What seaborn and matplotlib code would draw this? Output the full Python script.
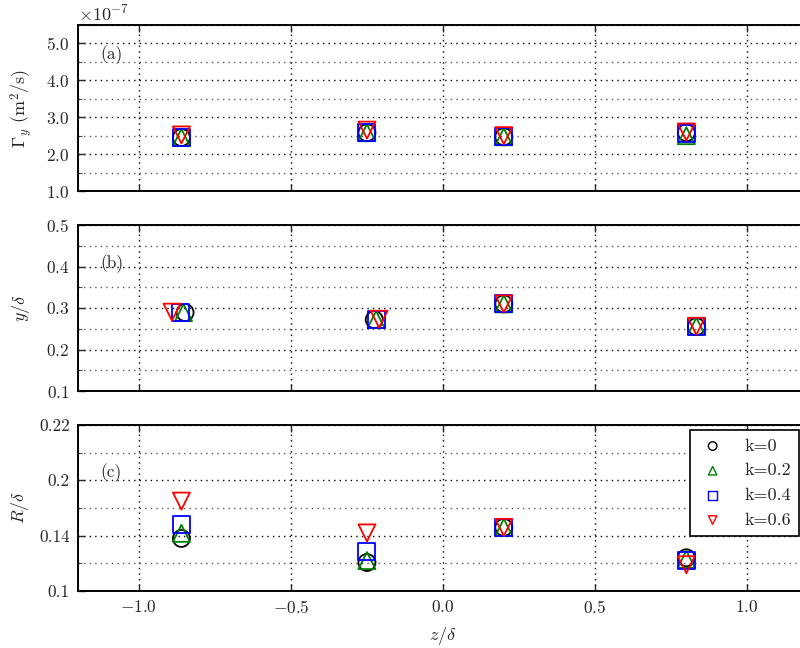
import numpy as np
import pandas as pd
import matplotlib
matplotlib.use("Agg")
import matplotlib.pyplot as plt
import seaborn as sns
from matplotlib.ticker import ScalarFormatter, MultipleLocator, FixedLocator, FixedFormatter

# ---------------- data ----------------
k_labels = ["k=0", "k=0.2", "k=0.4", "k=0.6"]

# panel (a): Gamma_y (m^2/s)
z_a = [-0.86, -0.25, 0.2, 0.8]
gamma_k0 = [2.45e-7, 2.58e-7, 2.47e-7, 2.58e-7]
gamma_k02 = [2.45e-7, 2.58e-7, 2.47e-7, 2.50e-7]
gamma_k04 = [2.45e-7, 2.58e-7, 2.47e-7, 2.56e-7]
gamma_k06 = [2.52e-7, 2.65e-7, 2.50e-7, 2.60e-7]

# panel (b): y/delta (positions differ slightly per k)
zb_k0 = [-0.848, -0.226, 0.2, 0.833]
zb_k02 = [-0.853, -0.220, 0.2, 0.833]
zb_k04 = [-0.863, -0.218, 0.2, 0.833]
zb_k06 = [-0.891, -0.210, 0.2, 0.833]
yd_k0 = [0.289, 0.272, 0.310, 0.255]
yd_k02 = [0.289, 0.272, 0.310, 0.256]
yd_k04 = [0.289, 0.272, 0.310, 0.255]
yd_k06 = [0.290, 0.273, 0.310, 0.256]

# panel (c): R/delta
z_c = [-0.86, -0.25, 0.2, 0.8]
rd_k0 = [0.138, 0.1206, 0.146, 0.124]
rd_k02 = [0.1417, 0.122, 0.146, 0.123]
rd_k04 = [0.1484, 0.1284, 0.146, 0.1217]
rd_k06 = [0.165, 0.142, 0.146, 0.119]

c_yticks = [0.1, 0.14, 0.18, 0.22]
c_yticklabels = ["0.1", "0.14", "0.2", "0.22"]

# ---------------- style ----------------
sns.set_style("ticks")
plt.rcParams.update({
    "font.family": ["cmr10", "DejaVu Serif"],
    "mathtext.fontset": "cm",
    "axes.formatter.use_mathtext": True,
    "axes.unicode_minus": True,
    "font.size": 12,
    "axes.linewidth": 1.4,
})

markers = ["o", "^", "s", "v"]
colors = ["black", "green", "blue", "red"]

fig = plt.figure(figsize=(8.0, 6.48), dpi=100)
left, width = 78 / 800, (808 - 78) / 800
H = 648
def pos(top, bottom):
    return [left, 1 - bottom / H, width, (bottom - top) / H]

ax_a = fig.add_axes(pos(25, 191))
ax_b = fig.add_axes(pos(225, 391))
ax_c = fig.add_axes(pos(425, 591))

df_a = pd.DataFrame({"z": z_a * 4,
                     "v": gamma_k0 + gamma_k02 + gamma_k04 + gamma_k06,
                     "k": sum([[k] * 4 for k in k_labels], [])})
df_b = pd.DataFrame({"z": zb_k0 + zb_k02 + zb_k04 + zb_k06,
                     "v": yd_k0 + yd_k02 + yd_k04 + yd_k06,
                     "k": sum([[k] * 4 for k in k_labels], [])})
df_c = pd.DataFrame({"z": z_c * 4,
                     "v": rd_k0 + rd_k02 + rd_k04 + rd_k06,
                     "k": sum([[k] * 4 for k in k_labels], [])})

for ax, df in [(ax_a, df_a), (ax_b, df_b), (ax_c, df_c)]:
    for k, m, c in zip(k_labels, markers, colors):
        sub = df[df["k"] == k]
        sns.scatterplot(data=sub, x="z", y="v", ax=ax, marker=m, s=150,
                        color=c, facecolor="none", edgecolor=c,
                        linewidth=1.3, label=k, legend=False, zorder=3)
    ax.set_xlim(-1.2, 1.2)
    ax.xaxis.set_major_locator(MultipleLocator(0.5))
    ax.tick_params(direction="in", top=True, right=True, length=5, width=1,
                   labelsize=12.5, pad=6)
    ax.tick_params(which="minor", direction="in", length=3, left=True, right=True)
    ax.grid(which="major", axis="both", color="black", linestyle=(0, (1, 3)), linewidth=1.0)
    ax.grid(which="minor", axis="y", color="0.35", linestyle=(0, (1, 3)), linewidth=1.0)
    ax.set_axisbelow(True)
    ax.set_xlabel("")
    for s in ax.spines.values():
        s.set_color("black")
        s.set_linewidth(1.4)

# panel a
class Fmt(ScalarFormatter):
    def _set_format(self):
        self.format = r"$\mathdefault{%1.1f}$"

ax_a.set_ylim(1.0e-7, 5.5e-7)
ax_a.yaxis.set_major_locator(MultipleLocator(1e-7))
ax_a.yaxis.set_minor_locator(MultipleLocator(0.5e-7))
fa = Fmt(useMathText=True)
fa.set_powerlimits((0, 0))
ax_a.yaxis.set_major_formatter(fa)
ax_a.yaxis.get_offset_text().set_fontsize(13)
ax_a.set_ylabel(r"$\Gamma_y$ (m$^2$/s)", fontsize=13, labelpad=8)
ax_a.tick_params(labelbottom=False)
ax_a.text(0.03, 0.82, "(a)", transform=ax_a.transAxes, fontsize=12.5, va="center")

# panel b
ax_b.set_ylim(0.1, 0.5)
ax_b.yaxis.set_major_locator(MultipleLocator(0.1))
ax_b.yaxis.set_minor_locator(MultipleLocator(0.05))
ax_b.yaxis.set_major_formatter(matplotlib.ticker.FormatStrFormatter(r"$\mathdefault{%.1f}$"))
ax_b.set_ylabel(r"$y/\delta$", fontsize=13, labelpad=10)
ax_b.tick_params(labelbottom=False)
ax_b.text(0.03, 0.77, "(b)", transform=ax_b.transAxes, fontsize=12.5, va="center")

# panel c
ax_c.set_ylim(0.1, 0.22)
ax_c.yaxis.set_major_locator(FixedLocator(c_yticks))
ax_c.yaxis.set_major_formatter(FixedFormatter(c_yticklabels))
ax_c.yaxis.set_minor_locator(FixedLocator([0.12, 0.16, 0.20]))
ax_c.set_ylabel(r"$R/\delta$", fontsize=13, labelpad=6)
ax_c.set_xlabel(r"$z/\delta$", fontsize=13, labelpad=6)
ax_c.text(0.03, 0.71, "(c)", transform=ax_c.transAxes, fontsize=12.5, va="center")

leg = ax_c.legend(loc="upper right", bbox_to_anchor=(799 / 800, 1 - 430 / H),
                  bbox_transform=fig.transFigure, markerscale=0.5,
                  fancybox=False, frameon=True, edgecolor="black", fontsize=13,
                  handlelength=1.6, handletextpad=0.95, labelspacing=0.5,
                  borderpad=0.45, borderaxespad=0)
leg.get_frame().set_linewidth(1.2)
leg.get_frame().set_alpha(1)
for h in leg.legend_handles:
    h.set_linewidth(1.0)
for ax in (ax_a, ax_b):
    if ax.get_legend() is not None:
        ax.get_legend().remove()

fig.savefig("out.png", dpi=100)
